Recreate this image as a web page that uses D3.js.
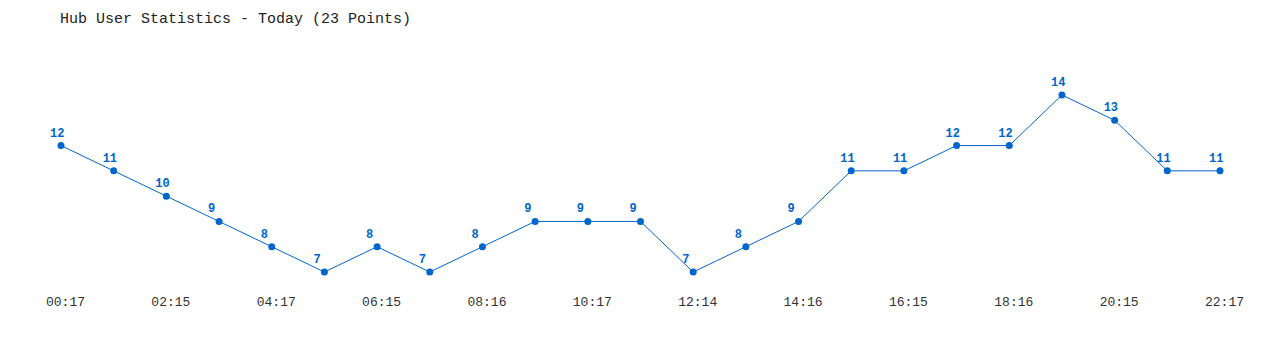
<!DOCTYPE html>
<html>
<head>
<meta charset="utf-8">
<script src="https://cdn.jsdelivr.net/npm/d3@7"></script>
<style>
  body { margin: 0; background: #fff; }
  svg text { font-family: "Liberation Mono", "DejaVu Sans Mono", monospace; }
</style>
</head>
<body>
<div id="container"></div>
<script>
const times = ["00:17", "01:16", "02:15", "03:16", "04:17", "05:16", "06:15", "07:16",
  "08:16", "09:16", "10:17", "11:15", "12:14", "13:15", "14:16", "15:15",
  "16:15", "17:16", "18:16", "19:15", "20:15", "21:16", "22:17"];
const users = [12, 11, 10, 9, 8, 7, 8, 7, 8, 9, 9, 9, 7, 8, 9, 11, 11, 12, 12, 14, 13, 11, 11];
const tickLabels = ["00:17", "02:15", "04:17", "06:15", "08:16", "10:17",
  "12:14", "14:16", "16:15", "18:16", "20:15", "22:17"];

const width = 1280, height = 350;
const color = "#0066cc";

const svg = d3.select("#container").append("svg")
  .attr("width", width)
  .attr("height", height);

svg.append("text")
  .attr("x", 60)
  .attr("y", 23)
  .attr("fill", "#222")
  .style("font-size", "15px")
  .text("Hub User Statistics - Today (23 Points)");

const xScale = d3.scalePoint().domain(times).range([61, 1220]);
const yScale = d3.scaleLinear().domain([7, 14]).range([272, 95]);

const xAxis = d3.axisBottom(xScale)
  .tickValues(tickLabels)
  .tickSize(0)
  .tickPadding(0);

svg.append("g")
  .attr("transform", "translate(4, 297)")
  .call(xAxis)
  .call(g => g.select(".domain").remove())
  .call(g => g.selectAll("text")
    .attr("fill", "#333")
    .style("font-size", "13px")
    .style("font-family", "'Liberation Mono', 'DejaVu Sans Mono', monospace"));

const line = d3.line()
  .x((d, i) => xScale(times[i]))
  .y(d => yScale(d));

svg.append("path")
  .datum(users)
  .attr("fill", "none")
  .attr("stroke", color)
  .attr("stroke-width", 1)
  .attr("d", line);

svg.selectAll(".dot")
  .data(users)
  .enter()
  .append("circle")
  .attr("class", "dot")
  .attr("cx", (d, i) => xScale(times[i]))
  .attr("cy", d => yScale(d))
  .attr("r", 3.5)
  .attr("fill", color);

// labels sit left-aligned a little before each point
svg.selectAll(".val")
  .data(users)
  .enter()
  .append("text")
  .attr("class", "val")
  .attr("x", (d, i) => xScale(times[i]) - 11)
  .attr("y", d => yScale(d) - 9)
  .attr("text-anchor", "start")
  .attr("fill", color)
  .style("font-size", "12px")
  .style("font-weight", "bold")
  .text(d => d);
</script>
</body>
</html>
